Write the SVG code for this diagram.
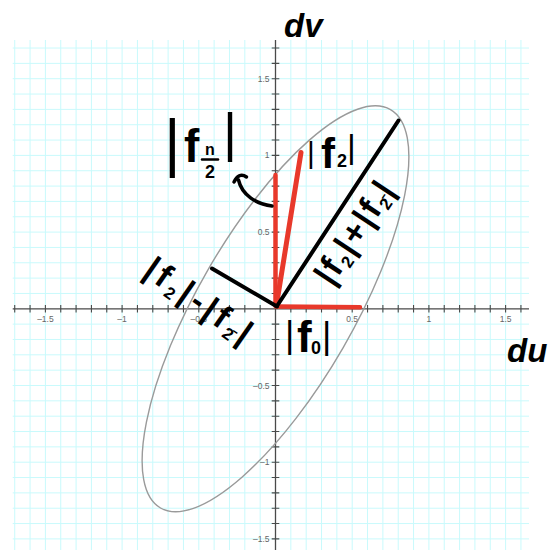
<svg xmlns="http://www.w3.org/2000/svg" width="552" height="550" viewBox="0 0 552 550">
<style>
.grid{stroke:#c9fafc;stroke-width:1;fill:none}
.axis{stroke:#4a4a4a;stroke-width:1.3;fill:none}
.tick{stroke:#4a4a4a;stroke-width:1.1;fill:none}
.tl{font-family:"Liberation Sans",Arial,sans-serif;font-size:8.5px;fill:#666}
.tl-y{text-anchor:end}
.tl-x{text-anchor:middle}
.ell{fill:none;stroke:#9a9a9a;stroke-width:1.4}
.red{stroke:#e8392b;stroke-width:4.5;stroke-linecap:round;fill:none}
.blk{stroke:#000;stroke-width:4;stroke-linecap:round;fill:none}
.hw{font-family:"Liberation Sans",Arial,sans-serif;font-weight:bold;fill:#000}
.bar{font-weight:normal}
</style>
<rect width="552" height="550" fill="#fff"/>
<g id="grid">
<path class="grid" d="M14.72 40V550M30.06 40V550M45.4 40V550M60.74 40V550M76.08 40V550M91.42 40V550M106.76 40V550M122.1 40V550M137.44 40V550M152.78 40V550M168.12 40V550M183.46 40V550M198.8 40V550M214.14 40V550M229.48 40V550M244.82 40V550M260.16 40V550M290.84 40V550M306.18 40V550M321.52 40V550M336.86 40V550M352.2 40V550M367.54 40V550M382.88 40V550M398.22 40V550M413.56 40V550M428.9 40V550M444.24 40V550M459.58 40V550M474.92 40V550M490.26 40V550M505.6 40V550M520.94 40V550"/>
<path class="grid" d="M12.7 48.02H529M12.7 63.36H529M12.7 78.7H529M12.7 94.04H529M12.7 109.38H529M12.7 124.72H529M12.7 140.06H529M12.7 155.4H529M12.7 170.74H529M12.7 186.08H529M12.7 201.42H529M12.7 216.76H529M12.7 232.1H529M12.7 247.44H529M12.7 262.78H529M12.7 278.12H529M12.7 293.46H529M12.7 324.14H529M12.7 339.48H529M12.7 354.82H529M12.7 370.16H529M12.7 385.5H529M12.7 400.84H529M12.7 416.18H529M12.7 431.52H529M12.7 446.86H529M12.7 462.2H529M12.7 477.54H529M12.7 492.88H529M12.7 508.22H529M12.7 523.56H529M12.7 538.9H529"/>
</g>
<g id="axes">
<path class="axis" d="M12.7 308.8H529M275.5 40V550"/>
<path class="tick" d="M14.72 305v7.6M30.06 305v7.6M45.4 305v7.6M60.74 305v7.6M76.08 305v7.6M91.42 305v7.6M106.76 305v7.6M122.1 305v7.6M137.44 305v7.6M152.78 305v7.6M168.12 305v7.6M183.46 305v7.6M198.8 305v7.6M214.14 305v7.6M229.48 305v7.6M244.82 305v7.6M260.16 305v7.6M290.84 305v7.6M306.18 305v7.6M321.52 305v7.6M336.86 305v7.6M352.2 305v7.6M367.54 305v7.6M382.88 305v7.6M398.22 305v7.6M413.56 305v7.6M428.9 305v7.6M444.24 305v7.6M459.58 305v7.6M474.92 305v7.6M490.26 305v7.6M505.6 305v7.6M520.94 305v7.6"/>
<path class="tick" d="M271.7 48.02h7.6M271.7 63.36h7.6M271.7 78.7h7.6M271.7 94.04h7.6M271.7 109.38h7.6M271.7 124.72h7.6M271.7 140.06h7.6M271.7 155.4h7.6M271.7 170.74h7.6M271.7 186.08h7.6M271.7 201.42h7.6M271.7 216.76h7.6M271.7 232.1h7.6M271.7 247.44h7.6M271.7 262.78h7.6M271.7 278.12h7.6M271.7 293.46h7.6M271.7 324.14h7.6M271.7 339.48h7.6M271.7 354.82h7.6M271.7 370.16h7.6M271.7 385.5h7.6M271.7 400.84h7.6M271.7 416.18h7.6M271.7 431.52h7.6M271.7 446.86h7.6M271.7 462.2h7.6M271.7 477.54h7.6M271.7 492.88h7.6M271.7 508.22h7.6M271.7 523.56h7.6M271.7 538.9h7.6"/>
<text class="tl tl-y" x="269.5" y="81.7">1.5</text>
<text class="tl tl-y" x="269.5" y="158.4">1</text>
<text class="tl tl-y" x="269.5" y="235.1">0.5</text>
<text class="tl tl-y" x="269.5" y="388.5">–0.5</text>
<text class="tl tl-y" x="269.5" y="465.2">–1</text>
<text class="tl tl-y" x="269.5" y="541.9">–1.5</text>
<text class="tl tl-x" x="45.4" y="321.5">–1.5</text>
<text class="tl tl-x" x="122.1" y="321.5">–1</text>
<text class="tl tl-x" x="198.8" y="321.5">–0.5</text>
<text class="tl tl-x" x="352.2" y="321.5">0.5</text>
<text class="tl tl-x" x="428.9" y="321.5">1</text>
<text class="tl tl-x" x="505.6" y="321.5">1.5</text>
</g>
<g id="ellipse">
<ellipse class="ell" cx="275.5" cy="308.8" rx="230" ry="78" transform="rotate(-60 275.5 308.8)"/>
</g>
<g id="connectors">
<path class="red" d="M276 306.5L360 307.2"/>
<path class="red" d="M275.5 306V175"/>
<path class="red" d="M276.5 305L301 152.5" style="stroke-width:5"/>
<path class="blk" d="M277 306L398.5 120.5"/>
<path class="blk" d="M277 306.5L212 268.5"/>
<path class="blk" style="stroke-width:3.5" d="M272 206C256 204 242 195 238.5 180"/>
<path class="blk" style="stroke-width:3.5" d="M234 182C237 176 241 173 246.5 177"/>
</g>
<g id="label-dv"><text class="hw" x="284" y="37" font-size="33" font-style="italic">dv</text></g>
<g id="label-du"><text class="hw" x="507" y="362" font-size="33" font-style="italic">du</text></g>
<g id="label-fn2">
<text class="hw"><tspan class="bar" x="164" y="165" font-size="64">|</tspan><tspan x="184" y="162" font-size="46">f</tspan><tspan x="210" y="155" font-size="16" text-anchor="middle">n</tspan><tspan x="210" y="178" font-size="18" text-anchor="middle">2</tspan><tspan class="bar" x="223" y="151" font-size="54">|</tspan></text>
<path class="blk" style="stroke-width:2.5" d="M202 159.5H218"/>
</g>
<g id="label-f2">
<text class="hw"><tspan class="bar" x="307" y="163" font-size="30">|</tspan><tspan x="321" y="168" font-size="42">f</tspan><tspan x="337" y="167" font-size="18">2</tspan><tspan class="bar" x="347" y="158" font-size="34">|</tspan></text>
</g>
<g id="label-f0">
<text class="hw"><tspan class="bar" x="285" y="347" font-size="36">|</tspan><tspan x="297" y="352" font-size="44">f</tspan><tspan x="311" y="354" font-size="18">0</tspan><tspan class="bar" x="322" y="348" font-size="36">|</tspan></text>
</g>
<g id="label-sum">
<text class="hw" font-size="34" letter-spacing="2" text-anchor="middle" transform="translate(355 232) rotate(-56.5)" dy="11">|f<tspan font-size="17" dy="5">2</tspan><tspan dy="-5">|+|f</tspan><tspan font-size="17" dy="5">2̄</tspan><tspan dy="-5">|</tspan></text>
</g>
<g id="label-diff">
<text class="hw" font-size="34" letter-spacing="4" text-anchor="middle" transform="translate(200 302) rotate(35)" dy="11">|f<tspan font-size="17" dy="5">2</tspan><tspan dy="-5">|-|f</tspan><tspan font-size="17" dy="5">2̄</tspan><tspan dy="-5">|</tspan></text>
</g>
</svg>
